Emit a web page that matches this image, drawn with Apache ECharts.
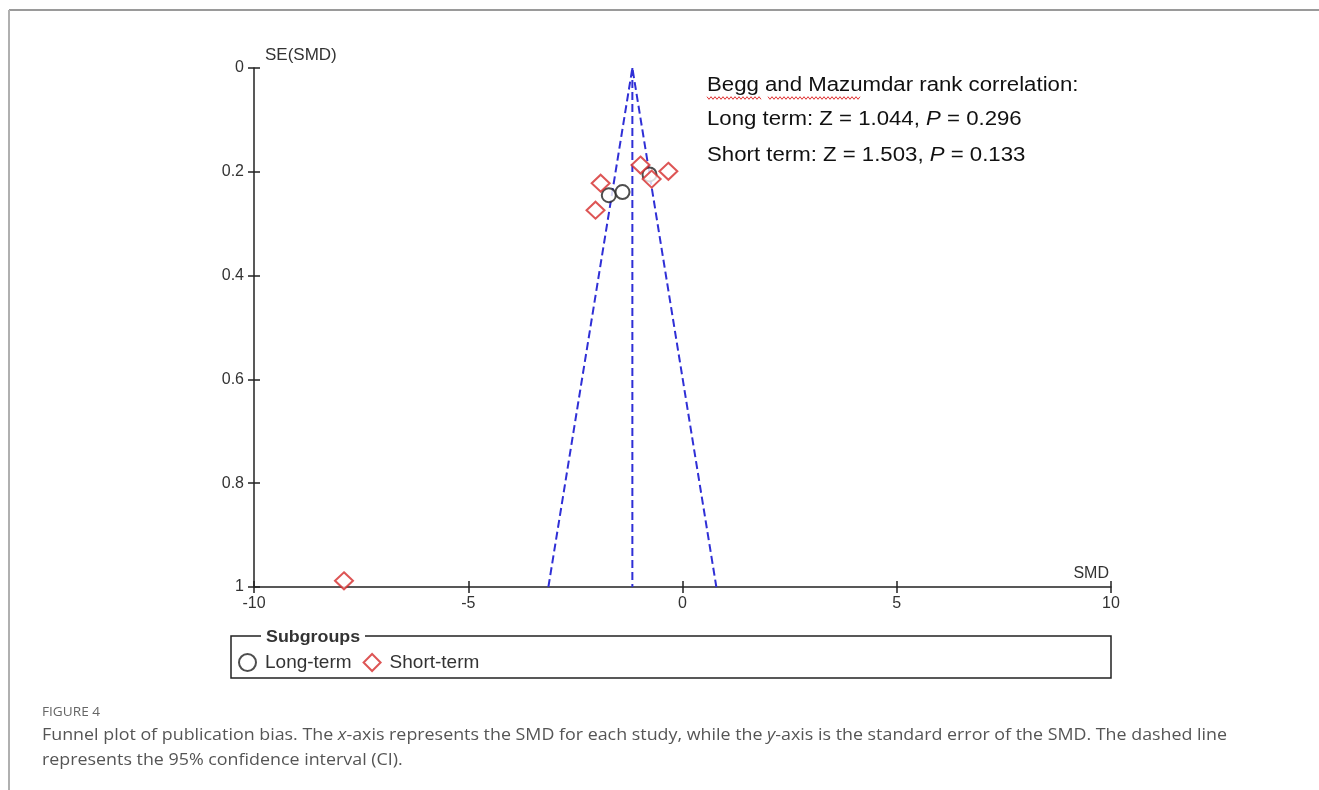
<!DOCTYPE html>
<html><head><meta charset="utf-8">
<script src="https://cdn.jsdelivr.net/npm/echarts@6/dist/echarts.min.js"></script>
<style>html,body{margin:0;padding:0;background:#fff;}#c{width:1319px;height:790px;}</style>
</head><body><div id="c"></div>
<script>
// ---- data ----
var longTermSMD = [-1.72, -1.40, -0.77];
var longTermSE  = [0.245, 0.239, 0.205];
var shortTermSMD = [-1.91, -2.03, -0.98, -0.72, -0.33, -7.90];
var shortTermSE  = [0.222, 0.274, 0.187, 0.214, 0.199, 0.988];
var funnelSMD = [-3.13, -1.17, 0.79];
var funnelSE  = [1, 0, 1];
var centerSMD = [-1.17, -1.17];
var centerSE  = [0, 1];
var xTicks = [-10, -5, 0, 5, 10];
var yTicks = [0, 0.2, 0.4, 0.6, 0.8, 1];
var annotationLines = ['Begg and Mazumdar rank correlation:', 'Long term: Z = 1.044, ', 'Short term: Z = 1.503, '];
var annotationP = ['', '0.296', '0.133'];
var legendNames = ['Long-term', 'Short-term'];

function pairs(xs, ys){ return xs.map(function(v,i){ return [v, ys[i]]; }); }
function wavy(x0, x1, y){
  var pts = [], up = true;
  for (var x = x0; x <= x1; x += 2) { pts.push([x, y + (up ? -1.3 : 1.3)]); up = !up; }
  return pts;
}

var chart = echarts.init(document.getElementById('c'));
var axisFont = {fontFamily: 'Liberation Sans', fontSize: 16, color: '#333'};
var lineStyleAxis = {color: '#222', width: 1.5};
var blue = '#2f2fd6';
var red = '#d42a2a';
var capGray = '#555';

var option = {
  animation: false,
  backgroundColor: '#fff',
  grid: {left: 254, right: 208, top: 68, bottom: 203, containLabel: false},
  xAxis: [{
    type: 'value', min: -10, max: 10, interval: 5, position: 'bottom',
    name: 'SMD', nameLocation: 'end', nameGap: -2,
    nameTextStyle: {fontFamily: 'Liberation Sans', fontSize: 16, color: '#333', align: 'right', verticalAlign: 'bottom', padding: [0, 0, 5, 0]},
    axisLine: {show: true, onZero: false, lineStyle: lineStyleAxis},
    axisTick: {show: true, inside: false, length: 6, lineStyle: lineStyleAxis},
    axisLabel: Object.assign({margin: 9, formatter: function(v){ return xTicks.indexOf(v) >= 0 ? String(v) : ''; }}, axisFont),
    splitLine: {show: false}
  }, {
    type: 'value', min: -10, max: 10, interval: 5, position: 'bottom',
    axisLine: {show: false, onZero: false},
    axisTick: {show: true, inside: true, length: 6, lineStyle: lineStyleAxis},
    axisLabel: {show: false}, splitLine: {show: false}
  }],
  yAxis: [{
    type: 'value', min: 0, max: 1, interval: 0.2, inverse: true, position: 'left',
    name: 'SE(SMD)', nameLocation: 'start', nameGap: 4,
    nameTextStyle: {fontFamily: 'Liberation Sans', fontSize: 17, color: '#333', align: 'left', verticalAlign: 'bottom', padding: [0, 0, 0, 11]},
    axisLine: {show: true, onZero: false, lineStyle: lineStyleAxis},
    axisTick: {show: true, inside: false, length: 6, lineStyle: lineStyleAxis},
    axisLabel: Object.assign({margin: 10, formatter: function(v){ return yTicks.indexOf(v) >= 0 ? String(v) : ''; }}, axisFont),
    splitLine: {show: false}
  }, {
    type: 'value', min: 0, max: 1, interval: 0.2, inverse: true, position: 'left',
    axisLine: {show: false, onZero: false},
    axisTick: {show: true, inside: true, length: 6, lineStyle: lineStyleAxis},
    axisLabel: {show: false}, splitLine: {show: false}
  }],
  legend: {
    data: [{name: legendNames[0], icon: 'emptyCircle'}, {name: legendNames[1], icon: 'emptyDiamond'}],
    left: 233, top: 648, itemWidth: 17, itemHeight: 17, itemGap: 11,
    textStyle: {fontFamily: 'Liberation Sans', fontSize: 19, color: '#333', padding: [0, 0, 0, 4]},
    selectedMode: false
  },
  series: [{
    type: 'line', data: pairs(funnelSMD, funnelSE), symbol: 'none', silent: true,
    lineStyle: {color: blue, width: 2, type: [8, 4]}, z: 1
  }, {
    type: 'line', data: pairs(centerSMD, centerSE), symbol: 'none', silent: true,
    lineStyle: {color: blue, width: 2, type: [8, 4]}, z: 1
  }, {
    name: legendNames[0], type: 'scatter', data: pairs(longTermSMD, longTermSE),
    symbol: 'emptyCircle', symbolSize: 14,
    itemStyle: {color: '#222', borderColor: '#222', borderWidth: 1.6}, z: 3
  }, {
    name: legendNames[1], type: 'scatter', data: pairs(shortTermSMD, shortTermSE),
    symbol: 'emptyDiamond', symbolSize: [18, 17],
    itemStyle: {color: red, borderColor: red, borderWidth: 1.8}, z: 3
  }],
  graphic: [
    // page frame
    {type: 'line', shape: {x1: 9, y1: 10, x2: 1319, y2: 10}, style: {stroke: '#9a9a9a', lineWidth: 2}, silent: true},
    {type: 'line', shape: {x1: 9, y1: 10, x2: 9, y2: 790}, style: {stroke: '#b0b0b0', lineWidth: 2}, silent: true},
    // annotation
    {type: 'text', x: 707, y: 85, scaleX: 1.11, style: {text: annotationLines[0], font: '20px "Liberation Sans"', fill: '#111', verticalAlign: 'middle'}},
    {type: 'text', x: 707, y: 119, scaleX: 1.11, style: {text: '{a|' + annotationLines[1] + '}{i|P}{a| = ' + annotationP[1] + '}', verticalAlign: 'middle',
      rich: {a: {fontFamily: 'Liberation Sans', fontSize: 20, fill: '#111'}, i: {fontFamily: 'Liberation Sans', fontSize: 20, fontStyle: 'italic', fill: '#111'}}}},
    {type: 'text', x: 707, y: 155, scaleX: 1.11, style: {text: '{a|' + annotationLines[2] + '}{i|P}{a| = ' + annotationP[2] + '}', verticalAlign: 'middle',
      rich: {a: {fontFamily: 'Liberation Sans', fontSize: 20, fill: '#111'}, i: {fontFamily: 'Liberation Sans', fontSize: 20, fontStyle: 'italic', fill: '#111'}}}},
    {type: 'polyline', shape: {points: wavy(707, 761, 98)}, style: {stroke: '#e03030', lineWidth: 1, fill: null}, silent: true},
    {type: 'polyline', shape: {points: wavy(768, 861, 98)}, style: {stroke: '#e03030', lineWidth: 1, fill: null}, silent: true},
    // legend box
    {type: 'rect', shape: {x: 231, y: 636, width: 880, height: 42}, style: {fill: null, stroke: '#222', lineWidth: 1.5}, z: -1},
    {type: 'rect', shape: {x: 261, y: 628, width: 104, height: 16}, style: {fill: '#fff'}, z: 0},
    {type: 'text', x: 266, y: 637, scaleX: 1.05, style: {text: 'Subgroups', font: 'bold 17px "Liberation Sans"', fill: '#333', verticalAlign: 'middle'}, z: 1},
    // caption
    {type: 'text', x: 42, y: 712, scaleX: 1.05, style: {text: 'FIGURE 4', font: '13px "Open Sans"', fill: '#666', verticalAlign: 'middle'}},
    {type: 'text', x: 42, y: 735, scaleX: 1.05, style: {text: '{a|Funnel plot of publication bias. The }{i|x}{a|-axis represents the SMD for each study, while the }{i|y}{a|-axis is the standard error of the SMD. The dashed line}', verticalAlign: 'middle',
      rich: {a: {fontFamily: 'Open Sans', fontSize: 17, fill: capGray}, i: {fontFamily: 'Open Sans', fontSize: 17, fontStyle: 'italic', fill: capGray}}}},
    {type: 'text', x: 42, y: 760, scaleX: 1.05, style: {text: 'represents the 95% confidence interval (CI).', font: '17px "Open Sans"', fill: capGray, verticalAlign: 'middle'}}
  ]
};
chart.setOption(option);
</script>
</body></html>
